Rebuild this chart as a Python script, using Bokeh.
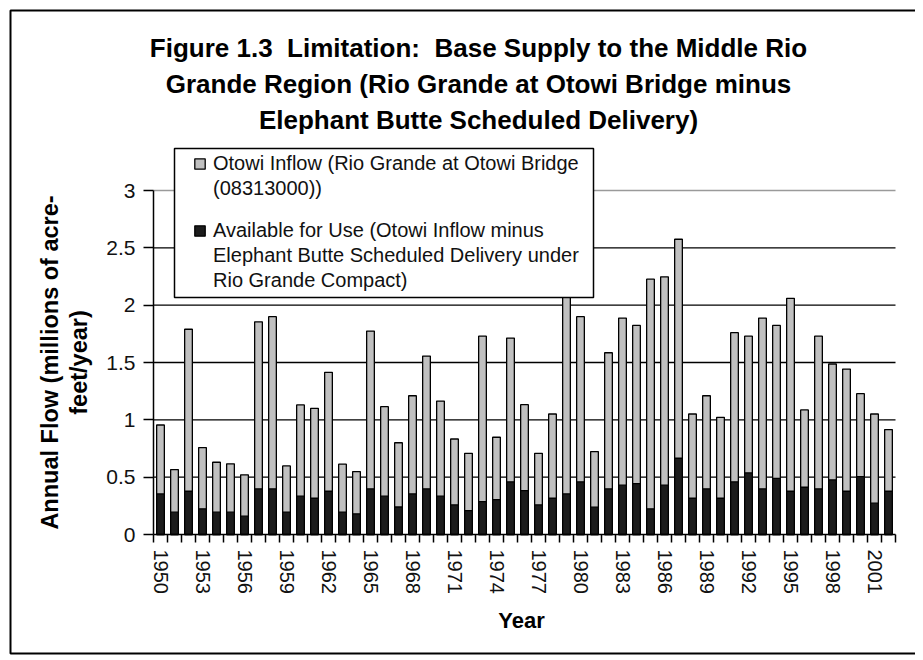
from math import pi
from bokeh.plotting import figure
from bokeh.models import (Range1d, FixedTicker, Label, Legend, LegendItem,
                          LinearAxis, BoxAnnotation)
from bokeh.embed import file_html
from bokeh.resources import INLINE

years = list(range(1950, 2003))
otowi_inflow = [0.955, 0.566, 1.79, 0.758, 0.63, 0.616, 0.52, 1.855, 1.90, 0.598,
                1.13, 1.10, 1.414, 0.613, 0.549, 1.774, 1.115, 0.80, 1.21, 1.556,
                1.164, 0.833, 0.708, 1.73, 0.848, 1.713, 1.132, 0.708, 1.051, 2.15,
                1.90, 0.723, 1.585, 1.887, 1.823, 2.227, 2.247, 2.575, 1.051, 1.21,
                1.022, 1.76, 1.73, 1.887, 1.823, 2.06, 1.086, 1.73, 1.487, 1.443,
                1.228, 1.051, 0.915]
available = [0.354, 0.195, 0.377, 0.224, 0.195, 0.195, 0.16, 0.398, 0.398, 0.195,
             0.334, 0.316, 0.377, 0.195, 0.18, 0.398, 0.334, 0.24, 0.354, 0.398,
             0.334, 0.258, 0.209, 0.287, 0.305, 0.459, 0.383, 0.258, 0.316, 0.354,
             0.459, 0.238, 0.398, 0.43, 0.444, 0.224, 0.43, 0.665, 0.316, 0.398,
             0.316, 0.459, 0.537, 0.398, 0.49, 0.377, 0.412, 0.398, 0.476, 0.377,
             0.505, 0.273, 0.377]
y_ticks = [0, 0.5, 1, 1.5, 2, 2.5, 3]
x_label_years = years[::3]
title_lines = ["Figure 1.3\u00a0 Limitation:\u00a0 Base Supply to the Middle Rio",
               "Grande Region (Rio Grande at Otowi Bridge minus",
               "Elephant Butte Scheduled Delivery)"]
legend_otowi = ["Otowi Inflow (Rio Grande at Otowi Bridge", "(08313000))"]
legend_avail = ["Available for Use (Otowi Inflow minus",
                "Elephant Butte Scheduled Delivery under",
                "Rio Grande Compact)"]
y_label_lines = ["Annual Flow (millions of acre-", "feet/year)"]
x_label = "Year"

FONT = "Liberation Sans"

# ---- layout (pixels, from the top-left of the canvas) ----
W, H = 915, 656
FRAME_L, FRAME_R, FRAME_T, FRAME_B = 153, 895, 190, 534

x_lo = years[0] - 0.5
x_hi = years[-1] + 0.5
px_x = (FRAME_R - FRAME_L) / (x_hi - x_lo)
px_y = (FRAME_B - FRAME_T) / (y_ticks[-1] - y_ticks[0])
x_range = Range1d(x_lo - FRAME_L / px_x, x_hi + (W - FRAME_R) / px_x)
y_range = Range1d(y_ticks[0] - (H - FRAME_B) / px_y, y_ticks[-1] + FRAME_T / px_y)


def sy(y_pix):
    """screen y (measured up from the frame bottom) for a y pixel from the top"""
    return H - y_pix


def dx(x_pix):
    return x_range.start + x_pix / px_x


def dy(y_pix):
    return y_range.end - y_pix / px_y


p = figure(width=W, height=H, output_backend="svg", toolbar_location=None,
           x_range=x_range, y_range=y_range, x_axis_location=None,
           y_axis_location=None, min_border=0)
p.title.visible = False
p.outline_line_color = None
p.background_fill_color = "white"
p.border_fill_color = "white"
p.xgrid.visible = False
p.ygrid.visible = False

# outer border of the chart (left, top, bottom; the right edge lies off-page)
p.line(x=[dx(W + 20), dx(10), dx(10), dx(W + 20)], y=[dy(10), dy(10), dy(653), dy(653)],
       line_color="#000000", line_width=2)

# horizontal grid lines (from the y ticks)
grid_y = y_ticks[1:]
grid_colors = ["#000000"] * (len(grid_y) - 1) + ["#9a9a9a"]
p.segment(x0=[x_lo] * len(grid_y), x1=[x_hi] * len(grid_y), y0=grid_y, y1=grid_y,
          line_color=grid_colors, line_width=1.4)

r1 = p.vbar(x=years, top=otowi_inflow, width=0.55, fill_color="#c0c0c0",
            line_color="#000000", line_width=1.3)
r2 = p.vbar(x=years, top=available, width=0.55, fill_color="#1c1c1c",
            line_color="#000000", line_width=1.3)
dummy = p.vbar(x=[], top=[], width=0.55, fill_alpha=0, line_alpha=0)

# ---- axes ----
yax = LinearAxis(fixed_location=x_lo, bounds=(y_ticks[0], y_ticks[-1]),
                 ticker=FixedTicker(ticks=y_ticks))
yax.major_label_overrides = {t: f"{t:g}" for t in y_ticks}
yax.minor_tick_line_color = None
yax.major_tick_out = 10
yax.major_tick_in = 0
yax.major_tick_line_width = 1.5
yax.axis_line_width = 1.5
yax.major_label_standoff = 8
yax.major_label_text_font = FONT
yax.major_label_text_font_size = "21px"
yax.major_label_text_color = "#111111"
p.add_layout(yax, "left")

xax = LinearAxis(fixed_location=y_ticks[0], bounds=(x_lo, x_hi),
                 ticker=FixedTicker(ticks=x_label_years,
                                    minor_ticks=[y - 0.5 for y in years] + [x_hi]))
xax.major_tick_line_color = None
xax.major_tick_out = 8
xax.major_tick_in = 0
xax.minor_tick_out = 8
xax.minor_tick_in = 0
xax.minor_tick_line_color = "#000000"
xax.minor_tick_line_width = 1.5
xax.axis_line_width = 1.5
xax.major_label_orientation = "vertical"
xax.major_label_standoff = 7
xax.major_label_text_font = FONT
xax.major_label_text_font_size = "20px"
xax.major_label_text_color = "#111111"
p.add_layout(xax, "below")

# ---- texts ----
for txt, yp in zip(title_lines, [47, 83, 119]):
    p.add_layout(Label(x=478, y=sy(yp), x_units="screen", y_units="screen", text=txt,
                       text_align="center", text_baseline="middle",
                       text_font=FONT, text_font_size="26px",
                       text_font_style="bold", text_color="#000000"))

for txt, xp in zip(y_label_lines, [49, 78]):
    p.add_layout(Label(x=xp, y=sy(362), x_units="screen", y_units="screen", text=txt,
                       angle=pi / 2, text_align="center", text_baseline="middle",
                       text_font=FONT, text_font_size="23.5px",
                       text_font_style="bold", text_color="#000000"))

p.add_layout(Label(x=521, y=sy(620), x_units="screen", y_units="screen", text=x_label,
                   text_align="center", text_baseline="middle", text_font=FONT,
                   text_font_size="22px", text_font_style="bold", text_color="#000000"))

# ---- legend box ----
p.add_layout(BoxAnnotation(left=174, right=593, top=sy(148), bottom=sy(297),
                           left_units="screen", right_units="screen",
                           top_units="screen", bottom_units="screen",
                           fill_color="white", fill_alpha=1, line_color="#000000",
                           line_width=1.5, line_alpha=1))


def make_legend(items, bottom_pix):
    lg = Legend(items=items, location=(193, sy(bottom_pix)), orientation="vertical")
    lg.label_text_font = FONT
    lg.label_text_font_size = "20px"
    lg.label_text_color = "#111111"
    lg.label_height = 25
    lg.glyph_width = 13
    lg.glyph_height = 13
    lg.label_standoff = 7
    lg.padding = 0
    lg.spacing = 0
    lg.margin = 0
    lg.border_line_color = None
    lg.background_fill_alpha = 0
    return lg


leg_a = make_legend([LegendItem(label=legend_otowi[0], renderers=[r1]),
                     LegendItem(label=legend_otowi[1], renderers=[dummy])], 200.5)
leg_b = make_legend([LegendItem(label=legend_avail[0], renderers=[r2]),
                     LegendItem(label=legend_avail[1], renderers=[dummy]),
                     LegendItem(label=legend_avail[2], renderers=[dummy])], 292.5)
p.add_layout(leg_a, "center")
p.add_layout(leg_b, "center")

open("out.html", "w").write(file_html(p, INLINE))
